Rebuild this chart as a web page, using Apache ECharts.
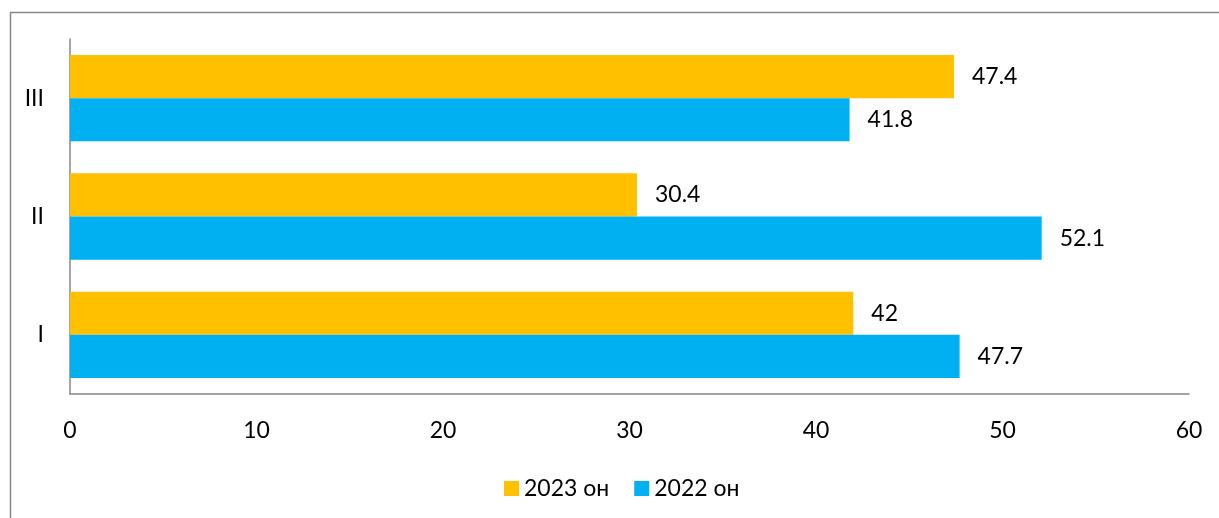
<!DOCTYPE html>
<html>
<head>
<meta charset="utf-8">
<script src="https://cdn.jsdelivr.net/npm/echarts@6/dist/echarts.min.js"></script>
<style>
html,body{margin:0;padding:0;background:#fff;}
#chart{width:1219px;height:518px;}
</style>
</head>
<body>
<div id="chart"></div>
<script>
const categories = ['I', 'II', 'III'];
const seriesNames = ['2023 он', '2022 он'];
const values2023 = [42, 30.4, 47.4];
const values2022 = [47.7, 52.1, 41.8];
const xTicks = { min: 0, max: 60, interval: 10 };

const FONT = 'Lato';
const FS = 23;
const chart = echarts.init(document.getElementById('chart'));
chart.setOption({
  animation: false,
  textStyle: { fontFamily: FONT },
  graphic: [{
    type: 'rect',
    left: 8, top: 10,
    shape: { width: 1300, height: 600 },
    style: { fill: 'none', stroke: '#878787', lineWidth: 1.5 },
    silent: true
  }],
  legend: {
    data: seriesNames,
    left: 499,
    top: 472,
    itemWidth: 15,
    itemHeight: 15,
    itemGap: 25,
    icon: 'rect',
    textStyle: { fontFamily: FONT, fontSize: FS, color: '#000' }
  },
  grid: { left: 70, right: 30, top: 39, bottom: 124, containLabel: false },
  xAxis: {
    type: 'value',
    min: xTicks.min, max: xTicks.max, interval: xTicks.interval,
    axisLine: { show: true, lineStyle: { color: '#878787', width: 1.5 } },
    axisTick: { show: false },
    splitLine: { show: false },
    axisLabel: { fontFamily: FONT, fontSize: FS, color: '#000', margin: 25 }
  },
  yAxis: {
    type: 'category',
    data: categories,
    axisLine: { show: true, lineStyle: { color: '#878787', width: 1.5 } },
    axisTick: { show: false },
    axisLabel: { fontFamily: FONT, fontSize: FS, color: '#000', margin: 26 }
  },
  series: [
    {
      name: seriesNames[0], type: 'bar', data: values2023,
      itemStyle: { color: '#FFC000' },
      barGap: '0%', barCategoryGap: '27%',
      label: { show: true, position: 'right', distance: 18, fontFamily: FONT, fontSize: FS, color: '#000' }
    },
    {
      name: seriesNames[1], type: 'bar', data: values2022,
      itemStyle: { color: '#00B0F0' },
      barGap: '0%', barCategoryGap: '27%',
      label: { show: true, position: 'right', distance: 18, fontFamily: FONT, fontSize: FS, color: '#000' }
    }
  ]
});
</script>
</body>
</html>
